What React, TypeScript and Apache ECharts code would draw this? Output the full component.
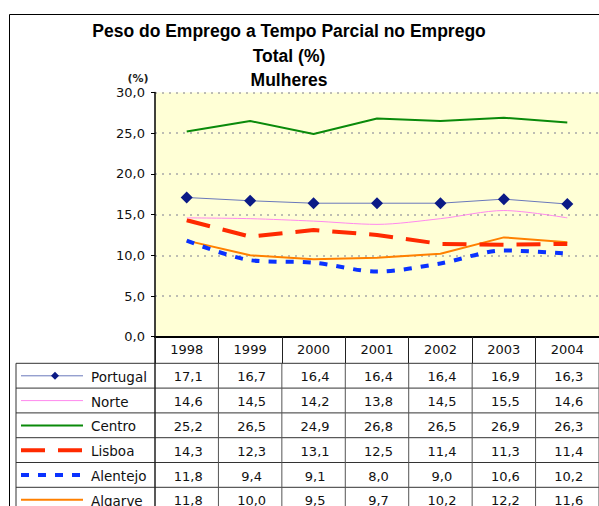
import React, { useEffect, useRef } from "react";
import * as echarts from "echarts";

const years = ["1998", "1999", "2000", "2001", "2002", "2003", "2004"];
const seriesNames = ["Portugal", "Norte", "Centro", "Lisboa", "Alentejo", "Algarve"];
const portugal = [17.1, 16.7, 16.4, 16.4, 16.4, 16.9, 16.3];
const norte = [14.6, 14.5, 14.2, 13.8, 14.5, 15.5, 14.6];
const centro = [25.2, 26.5, 24.9, 26.8, 26.5, 26.9, 26.3];
const lisboa = [14.3, 12.3, 13.1, 12.5, 11.4, 11.3, 11.4];
const alentejo = [11.8, 9.4, 9.1, 8.0, 9.0, 10.6, 10.2];
const algarve = [11.8, 10.0, 9.5, 9.7, 10.2, 12.2, 11.6];
const values = [portugal, norte, centro, lisboa, alentejo, algarve];
const titleLines = ["Peso do Emprego a Tempo Parcial no Emprego", "Total (%)", "Mulheres"];
const yMin = 0;
const yMax = 30;
const yStep = 5;

const styles = [
  { color: "#6a78bb", width: 1, dash: "solid" as any, symbol: "diamond", symbolSize: 12, symbolColor: "#0b1a86", smooth: false },
  { color: "#ff88ee", width: 1, dash: "solid" as any, symbol: "none", symbolSize: 0, symbolColor: "", smooth: 0.3 },
  { color: "#0a8a0a", width: 2, dash: "solid" as any, symbol: "none", symbolSize: 0, symbolColor: "", smooth: false },
  { color: "#ff2a00", width: 4, dash: [24, 13], symbol: "none", symbolSize: 0, symbolColor: "", smooth: false },
  { color: "#0a32ff", width: 4, dash: [8, 9], symbol: "none", symbolSize: 0, symbolColor: "", smooth: 0.3 },
  { color: "#ff8000", width: 2, dash: "solid" as any, symbol: "none", symbolSize: 0, symbolColor: "", smooth: false },
];

const fmt = (v: number) => v.toFixed(1).replace(".", ",");
const FONT = "DejaVu Sans";

export default function App() {
  const ref = useRef<HTMLDivElement>(null);
  useEffect(() => {
    if (!ref.current) return;
    const chart = echarts.init(ref.current, undefined, { renderer: "svg" });
    const grid = { left: 155, top: 92.5, width: 453, height: 244.2 };
    chart.setOption({
      animation: false,
      backgroundColor: "#ffffff",
      grid: { ...grid, show: true, backgroundColor: "#ffffd6", borderWidth: 0 },
      xAxis: {
        type: "category",
        data: years,
        boundaryGap: true,
        axisLine: { show: true, lineStyle: { color: "#000", width: 2 } },
        axisTick: { show: true, inside: false, length: 26.6, lineStyle: { color: "#222", width: 1 } },
        axisLabel: { fontFamily: FONT, fontSize: 13, color: "#111", margin: 6 },
        splitLine: { show: false },
      },
      yAxis: {
        type: "value",
        min: yMin,
        max: yMax,
        interval: yStep,
        axisLine: { show: true, lineStyle: { color: "#000", width: 1.5 } },
        axisTick: { show: true, length: 4, lineStyle: { color: "#000" } },
        axisLabel: { fontFamily: FONT, fontSize: 13, color: "#111", margin: 10, formatter: (v: number) => fmt(v) },
        splitLine: { show: true, lineStyle: { color: "#a8a8a8", type: [2, 5], width: 1.5 } },
      },
      series: seriesNames.map((name, i) => ({
        name,
        type: "line",
        data: values[i],
        smooth: styles[i].smooth,
        symbol: styles[i].symbol,
        symbolSize: styles[i].symbolSize,
        showSymbol: styles[i].symbol !== "none",
        itemStyle: { color: styles[i].symbolColor || styles[i].color },
        lineStyle: { color: styles[i].color, width: styles[i].width, type: styles[i].dash },
        z: 10 - i,
      })),
    });

    const xs = years.map((_, i) => chart.convertToPixel({ xAxisIndex: 0 }, i) as number);
    const step = xs.length > 1 ? xs[1] - xs[0] : 64.7;
    const bounds = xs.map((x) => x - step / 2).concat([xs[xs.length - 1] + step / 2]);
    const axisY = grid.top + grid.height;
    const headerBottom = 363.3;
    const rowH = 24.8;
    const tableLeft = 16;
    const elements: any[] = [];

    // outer frame
    elements.push({
      type: "rect",
      shape: { x: 9.5, y: 14.5, width: 700, height: 600 },
      style: { fill: "none", stroke: "#000", lineWidth: 1 },
      z: 100,
    });
    // title
    titleLines.forEach((t, i) => {
      elements.push({
        type: "text",
        x: 289,
        y: 31 + i * 24.5,
        style: { text: t, fontFamily: "Liberation Sans", fontWeight: "bold", fontSize: 17.5, fill: "#000", textAlign: "center", textVerticalAlign: "middle" },
      });
    });
    // (%) label
    elements.push({
      type: "text",
      x: 138,
      y: 78,
      style: { text: "(%)", fontFamily: FONT, fontSize: 11, fontWeight: "bold", fill: "#222", textAlign: "center", textVerticalAlign: "middle" },
    });

    // table horizontal lines
    for (let r = 0; r <= seriesNames.length; r++) {
      const y = headerBottom + r * rowH;
      elements.push({ type: "line", shape: { x1: tableLeft, y1: y, x2: 700, y2: y }, style: { stroke: "#333", lineWidth: 1 } });
    }
    // vertical lines
    elements.push({ type: "line", shape: { x1: tableLeft, y1: headerBottom, x2: tableLeft, y2: 600 }, style: { stroke: "#333", lineWidth: 1 } });
    elements.push({ type: "line", shape: { x1: bounds[0], y1: axisY, x2: bounds[0], y2: 600 }, style: { stroke: "#222", lineWidth: 1.5 } });
    bounds.slice(1).forEach((bx) => {
      elements.push({ type: "line", shape: { x1: bx, y1: headerBottom, x2: bx, y2: 600 }, style: { stroke: "#555", lineWidth: 1 } });
    });

    seriesNames.forEach((name, r) => {
      const top = headerBottom + r * rowH;
      const cy = top + 13.5;
      const s = styles[r];
      elements.push({
        type: "line",
        shape: { x1: 21, y1: cy - 1, x2: 83, y2: cy - 1 },
        style: { stroke: s.color, lineWidth: s.width, lineDash: Array.isArray(s.dash) ? s.dash : null },
      });
      if (s.symbol === "diamond") {
        elements.push({
          type: "polygon",
          shape: { points: [[55, cy - 5], [59, cy - 1], [55, cy + 3], [51, cy - 1]] },
          style: { fill: s.symbolColor },
        });
      }
      elements.push({
        type: "text",
        x: 91,
        y: cy,
        style: { text: name, fontFamily: FONT, fontSize: 13.5, fill: "#111", textAlign: "left", textVerticalAlign: "middle" },
      });
      values[r].forEach((v, i) => {
        elements.push({
          type: "text",
          x: xs[i] + 1.5,
          y: cy,
          style: { text: fmt(v), fontFamily: FONT, fontSize: 13, fill: "#111", textAlign: "center", textVerticalAlign: "middle" },
        });
      });
    });

    chart.setOption({ graphic: { elements } });
    return () => chart.dispose();
  }, []);
  return <div ref={ref} style={{ position: "fixed", left: 0, top: 0, width: 599, height: 506 }} />;
}
